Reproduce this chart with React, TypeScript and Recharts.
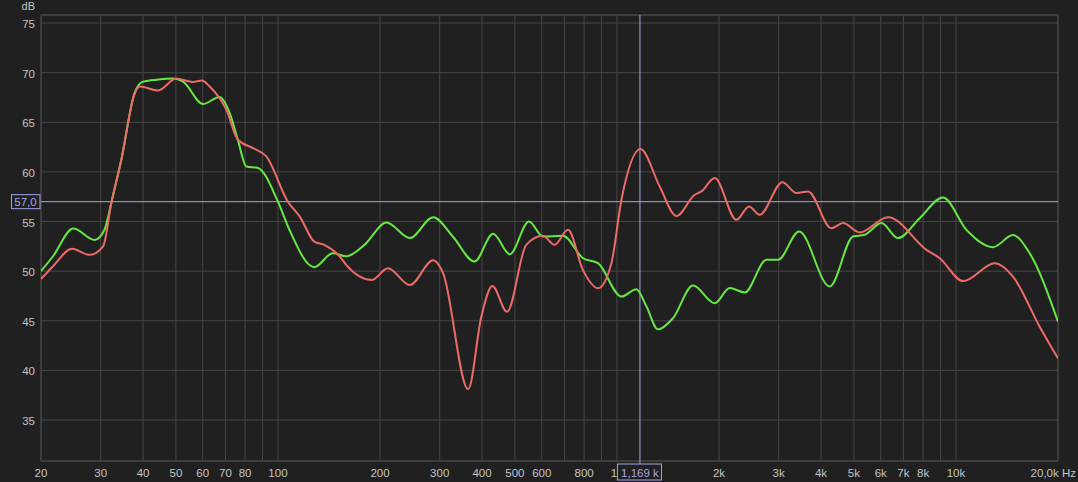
import React from 'react';
import { LineChart, Line, XAxis, YAxis, CartesianGrid, ReferenceLine, ReferenceArea } from 'recharts';

// frequency (Hz) / level (dB)
const greenFreq = [20, 21.7, 24.9, 28.8, 30.8, 32.3, 34.5, 37.8, 40, 44.3, 49, 52.5, 60.1, 67.3, 72.1, 76.2, 80.7, 87.3, 100, 108, 128, 145, 159, 180, 209, 245, 287, 328, 380, 431, 483, 550, 605, 693, 794, 879, 1031, 1141, 1222, 1321, 1463, 1676, 1943, 2151, 2381, 2760, 2986, 3445, 4243, 4970, 5381, 6027, 6745, 7817, 9161, 10740, 12870, 14730, 16500, 20000];
const greenDb = [50.0, 51.5, 54.3, 53.15, 54.2, 57.0, 61.2, 68.0, 69.1, 69.3, 69.4, 69.1, 66.84, 67.55, 65.9, 63.2, 60.55, 60.4, 57.0, 54.2, 50.4, 51.8, 51.5, 52.65, 54.9, 53.33, 55.44, 53.49, 50.97, 53.76, 51.71, 55.0, 53.49, 53.56, 51.3, 50.8, 47.44, 48.18, 46.43, 44.14, 45.25, 48.55, 46.77, 48.3, 47.85, 51.14, 51.14, 54.0, 48.45, 53.49, 53.66, 54.84, 53.33, 55.34, 57.42, 54.16, 52.42, 53.63, 51.8, 44.9];

const redFreq = [20, 21.7, 24.7, 27.8, 30.5, 32.3, 34.5, 37.8, 39.1, 44.3, 50.1, 56.1, 59.7, 62.9, 70.4, 76.2, 84.4, 92.4, 107, 116, 128, 137, 152, 159, 189, 211, 245, 287, 307, 364, 398, 429, 474, 540, 605, 655, 717, 794, 879, 963, 1031, 1173, 1337, 1497, 1696, 1775, 1943, 2250, 2453, 2637, 3077, 3384, 3661, 4292, 4644, 5201, 6302, 8184, 8955, 10494, 13017, 14730, 17660, 20000];
const redDb = [49.2, 50.5, 52.25, 51.64, 52.5, 57.0, 61.2, 67.9, 68.6, 68.2, 69.4, 69.06, 69.2, 68.6, 66.27, 63.24, 62.4, 61.56, 57.0, 55.5, 52.98, 52.65, 51.5, 50.63, 49.1, 50.3, 48.6, 51.1, 49.8, 38.1, 45.4, 48.5, 45.9, 52.65, 53.56, 52.65, 54.16, 50.1, 48.28, 50.8, 57.2, 62.3, 58.53, 55.56, 57.7, 58.03, 59.38, 55.17, 56.52, 55.68, 58.97, 57.87, 58.03, 54.33, 54.84, 53.9, 55.44, 52.15, 51.3, 49.0, 50.8, 49.45, 44.4, 41.2];

const xTicks = [20, 30, 40, 50, 60, 70, 80, 90, 100, 200, 300, 400, 500, 600, 700, 800, 900, 1000, 2000, 3000, 4000, 5000, 6000, 7000, 8000, 9000, 10000, 20000];
// "1k" is mostly hidden behind the cursor box, only its "1" shows
const xLabels = ['20', '30', '40', '50', '60', '70', '80', '', '100', '200', '300', '400', '500', '600', '', '800', '', '1', '2k', '3k', '4k', '5k', '6k', '7k', '8k', '', '10k', '20,0k Hz'];
const yTicks = [35, 40, 45, 50, 55, 60, 65, 70, 75];

const cursorFreq = 1169;
const cursorFreqLabel = '1,169 k';
const cursorDb = 57;
const cursorDbLabel = '57,0';

const greenData = greenFreq.map((f, i) => ({ f, db: greenDb[i] }));
const redData = redFreq.map((f, i) => ({ f, db: redDb[i] }));

const BG = '#202020';
const GRID = '#464646';
const TEXT = '#c4c4c4';
const CURSOR = '#a4a4ec';
const FONT = '"Liberation Sans", Arial, sans-serif';

const XTick = (props: any) => {
  const { x, payload } = props;
  const idx = xTicks.indexOf(payload.value);
  const label = xLabels[idx] ?? '';
  if (!label) return null;
  const last = payload.value === 20000;
  const oneK = payload.value === 1000;
  return (
    <text x={last ? x + 18 : oneK ? x - 3 : x} y={477} textAnchor={last ? 'end' : 'middle'} fill={TEXT} fontSize={11.5} fontFamily={FONT}>
      {label}
    </text>
  );
};

const YTick = (props: any) => {
  const { y, payload } = props;
  return (
    <text x={35} y={y + 5} textAnchor="end" fill={TEXT} fontSize={11.5} fontFamily={FONT}>
      {payload.value}
    </text>
  );
};

const FreqBox = (p: any) => {
  const vb = p.viewBox;
  const cx = vb.x;
  const top = vb.y + vb.height;
  return (
    <g>
      <line x1={cx} x2={cx} y1={top} y2={top + 3} stroke={CURSOR} />
      <rect x={cx - 22.5} y={top + 3} width={44} height={16} fill={BG} stroke={CURSOR} />
      <text x={cx} y={top + 15.5} textAnchor="middle" fill={CURSOR} fontSize={11.5} fontFamily={FONT}>
        {cursorFreqLabel}
      </text>
    </g>
  );
};

const DbBox = (p: any) => {
  const vb = p.viewBox;
  const cy = vb.y;
  return (
    <g>
      <rect x={11.5} y={cy - 7} width={28.5} height={14} fill={BG} stroke={CURSOR} />
      <text x={25.5} y={cy + 4.5} textAnchor="middle" fill={CURSOR} fontSize={11.5} fontFamily={FONT}>
        {cursorDbLabel}
      </text>
    </g>
  );
};

export default function App() {
  return (
    <div style={{ position: 'fixed', left: 0, top: 0, width: 1078, height: 482, background: BG }}>
      <svg style={{ position: 'absolute', left: 0, top: 0 }} width={60} height={15}>
        <text x={35} y={10} textAnchor="end" fill={TEXT} fontSize={11} fontFamily={FONT}>dB</text>
      </svg>
      <LineChart width={1078} height={482} margin={{ top: 15, right: 20, bottom: 0, left: 0 }}>
        <CartesianGrid stroke={GRID} strokeWidth={1} />
        <XAxis
          type="number"
          dataKey="f"
          scale="log"
          domain={[20, 20000]}
          ticks={xTicks}
          interval={0}
          allowDataOverflow
          axisLine={false}
          tickLine={false}
          height={21}
          tick={<XTick />}
        />
        <YAxis
          type="number"
          domain={[30.87, 75.81]}
          ticks={yTicks}
          interval={0}
          allowDataOverflow
          axisLine={false}
          tickLine={false}
          width={41}
          tick={<YTick />}
        />
        <ReferenceArea x1={20} x2={20000} y1={30.87} y2={75.81} fill="none" fillOpacity={0} stroke={GRID} strokeOpacity={1} />
        <ReferenceLine y={cursorDb} stroke={CURSOR} strokeWidth={1} label={(p: any) => <DbBox {...p} />} />
        <ReferenceLine x={cursorFreq} stroke={CURSOR} strokeWidth={1} label={(p: any) => <FreqBox {...p} />} />
        <Line data={greenData} dataKey="db" type="monotone" stroke="#66e844" strokeWidth={2} dot={false} isAnimationActive={false} />
        <Line data={redData} dataKey="db" type="monotone" stroke="#ec6b66" strokeWidth={2} dot={false} isAnimationActive={false} />
      </LineChart>
    </div>
  );
}
